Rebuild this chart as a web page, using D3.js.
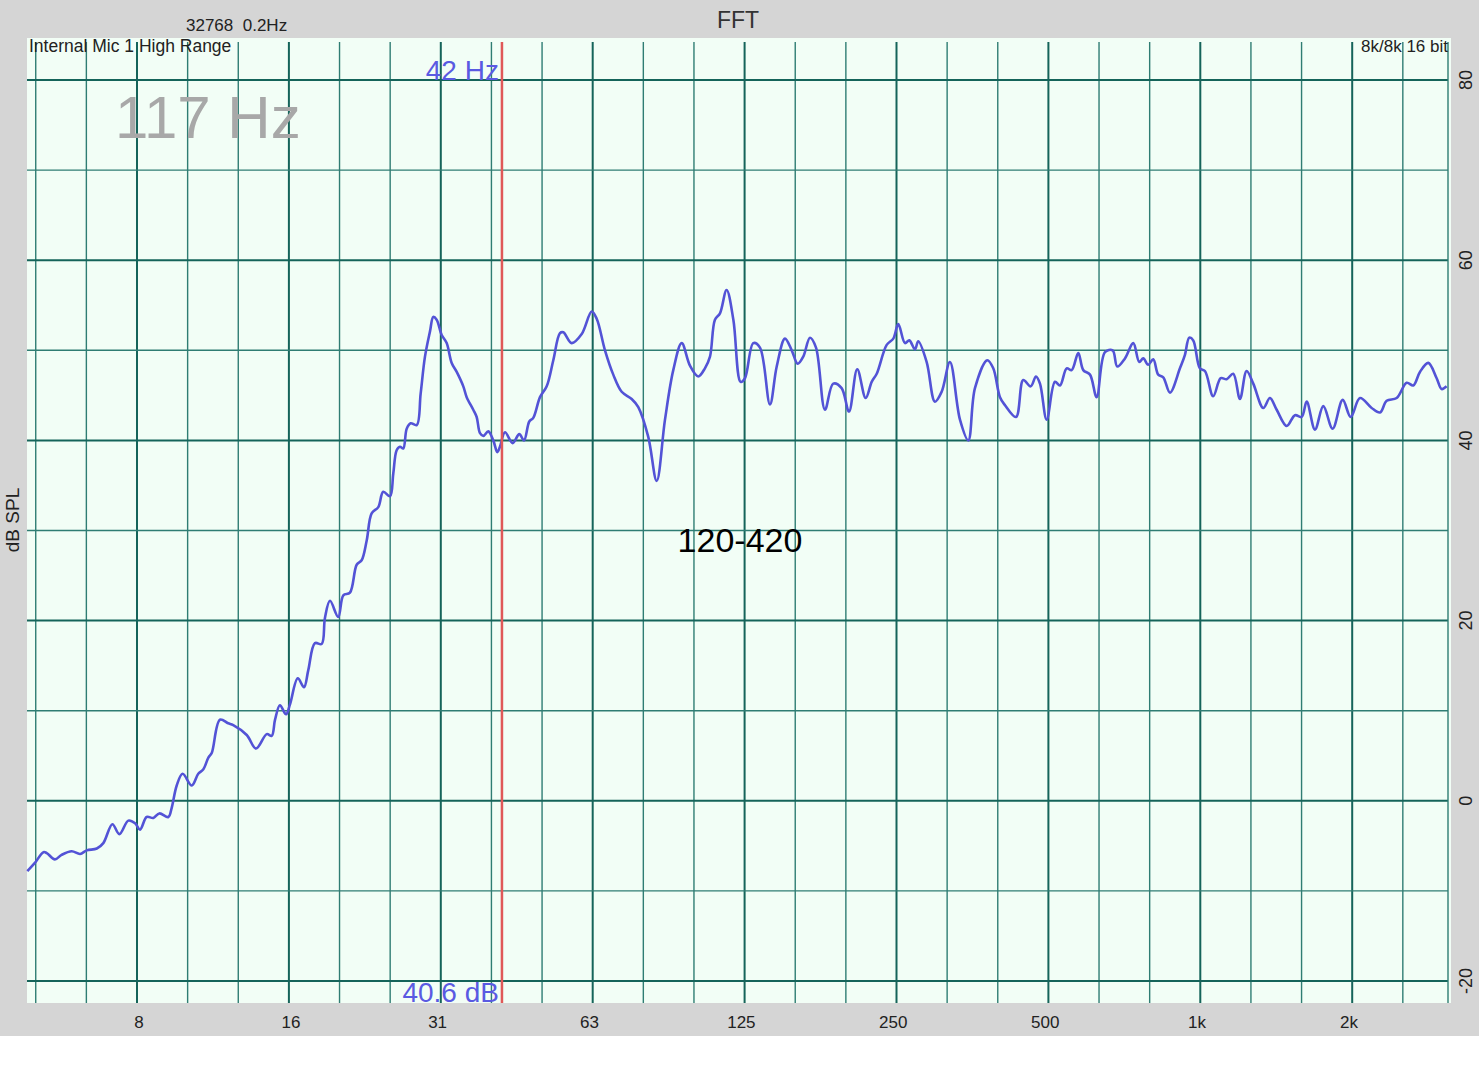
<!DOCTYPE html>
<html>
<head>
<meta charset="utf-8">
<script src="https://d3js.org/d3.v7.min.js"></script>
<style>
    body { margin: 0; background: #fff; }
    svg { display: block; font-family: "Liberation Sans", Arial, Helvetica, sans-serif; }
</style>
</head>
<body>
<script>
const canvWidth = 1479, canvHeight = 1080;
const plot = {left: 27, top: 38, right: 1451, bottom: 1003};

// frequency (Hz) and level (dB SPL)
const freqs = [4.85, 5.02, 5.22, 5.30, 5.50, 5.67, 5.94, 6.17, 6.36, 6.66, 6.86, 7.15, 7.38, 7.69, 7.93,
    8.11, 8.36, 8.62, 8.86, 9.23, 9.37, 9.59, 9.85, 10.27, 10.58, 10.83, 11.08, 11.25, 11.68, 12.13,
    12.41, 13.20, 13.77, 14.46, 14.79, 15.02, 15.36, 15.79, 16.08, 16.66, 17.14, 17.48, 18.02, 18.58,
    18.86, 19.30, 20.04, 20.51, 21.14, 21.80, 22.30, 22.82, 23.34, 24.06, 24.61, 25.38, 25.76, 26.16,
    26.56, 26.96, 27.39, 27.89, 28.67, 29.19, 29.77, 30.46, 30.92, 31.40, 32.13, 32.87, 33.63, 34.41,
    35.46, 36.01, 37.11, 37.69, 38.27, 38.85, 39.74, 40.66, 41.41, 41.92, 42.89, 44.42, 45.78, 46.78,
    47.92, 48.80, 50.32, 51.88, 53.47, 55.12, 55.96, 58.15, 60.87, 63.71, 65.18, 67.69, 70.30, 73.05,
    76.46, 78.80, 82.47, 85.70, 89.01, 92.44, 96.06, 99.76, 103.6, 106.8, 109.3, 111.8, 114.4, 117.9,
    121.6, 125.7, 128.2, 133.2, 137.3, 143.7, 148.2, 153.9, 158.7, 163.1, 167.3, 172.5, 177.3, 184.7,
    191.8, 199.3, 206.1, 214.0, 222.4, 228.6, 233.9, 244.8, 252.3, 258.1, 266.1, 271.4, 278.5, 282.7,
    293.8, 305.1, 314.6, 326.7, 342.0, 355.2, 366.2, 387.4, 398.1, 410.5, 420.0, 441.6, 456.5, 472.2,
    483.8, 492.7, 508.0, 527.6, 539.8, 556.5, 569.3, 586.8, 600.3, 619.0, 638.1, 662.8, 686.4, 701.0,
    726.1, 754.1, 775.1, 789.4, 807.5, 826.1, 845.2, 864.7, 891.6, 933.2, 954.7, 973.6, 991.6, 1022,
    1046, 1086, 1124, 1155, 1190, 1227, 1265, 1304, 1365, 1407, 1451, 1519, 1577, 1626, 1664, 1728,
    1795, 1873, 1961, 2034, 2122, 2238, 2325, 2397, 2509, 2626, 2706, 2790, 2898, 3011, 3080, 3151];

const levels = [-7.8, -6.9, -5.7, -5.8, -6.5, -6.0, -5.6, -5.9, -5.5, -5.3, -4.7, -2.6, -3.7, -2.2, -2.5,
    -3.2, -1.8, -1.9, -1.4, -1.8, -0.8, 1.7, 3.0, 1.7, 3.0, 3.5, 4.8, 5.3, 9.0, 8.6,
    8.4, 7.3, 5.8, 7.4, 7.2, 9.0, 10.6, 9.6, 10.7, 13.6, 12.6, 14.5, 17.5, 17.4,
    20.3, 22.2, 20.4, 22.8, 23.1, 26.2, 26.7, 28.9, 31.9, 32.6, 34.3, 33.8, 36.3, 38.9,
    39.3, 39.1, 41.3, 41.9, 41.7, 45.2, 49.3, 52.1, 53.7, 53.4, 51.7, 50.8, 48.6, 47.6,
    46.0, 44.8, 43.4, 42.6, 40.8, 40.5, 41.0, 40.0, 38.7, 39.3, 40.9, 39.7, 40.7, 40.0,
    42.1, 42.5, 44.8, 46.0, 48.9, 51.9, 52.0, 50.8, 51.8, 54.3, 53.5, 50.0, 47.3, 45.4,
    44.6, 43.7, 40.4, 35.5, 42.3, 47.8, 50.8, 48.3, 47.1, 48.0, 49.3, 53.4, 54.1, 56.7,
    53.4, 46.5, 46.9, 50.8, 50.3, 44.0, 48.2, 51.3, 50.0, 48.5, 49.3, 51.4, 50.3, 43.4,
    46.3, 45.8, 43.2, 47.9, 44.7, 46.5, 47.4, 50.6, 51.3, 52.9, 50.8, 51.1, 50.1, 51.0,
    48.7, 44.3, 45.4, 48.7, 42.3, 40.0, 45.8, 48.9, 48.0, 44.8, 43.9, 42.6, 46.7, 46.0,
    47.1, 46.3, 42.3, 46.5, 46.1, 48.0, 47.8, 49.7, 47.8, 47.3, 44.8, 49.8, 50.0, 48.2,
    49.1, 50.8, 48.7, 49.1, 48.4, 49.0, 47.3, 47.0, 45.3, 48.0, 49.5, 51.4, 51.1, 48.0,
    47.7, 44.9, 46.9, 46.8, 47.4, 44.6, 47.7, 46.3, 43.6, 44.7, 43.4, 41.6, 42.8, 42.6, 44.3, 41.2,
    43.8, 41.3, 44.5, 42.6, 44.7, 43.6, 43.1, 44.4, 44.7, 46.4, 46.1, 47.6, 48.6, 46.9, 45.7, 46.0];

const xTickValues = [8, 16, 31.25, 62.5, 125, 250, 500, 1000, 2000];
const xTickLabels = ["8", "16", "31", "63", "125", "250", "500", "1k", "2k"];
const yTickValues = [-20, -10, 0, 10, 20, 30, 40, 50, 60, 70, 80];
const yTickLabels = ["-20", "", "0", "", "20", "", "40", "", "60", "", "80"];

const cursorFreq = 42.3;
const cursorLabels = ["42 Hz", "40.6 dB"];

const svg = d3.select("body").append("svg")
    .attr("width", canvWidth)
    .attr("height", canvHeight);

// scales: one octave is ~152 px, 8 Hz sits at x=137
const xScale = d3.scaleLog().domain([8, 2000]).range([137, 1347]);
const yScale = d3.scaleLinear().domain([-20, 80]).range([981, 80]);

svg.append("rect")
    .attr("width", canvWidth).attr("height", 1036)
    .attr("fill", "#d5d5d5");

svg.append("rect")
    .attr("x", plot.left).attr("y", plot.top)
    .attr("width", plot.right - plot.left).attr("height", plot.bottom - plot.top)
    .attr("fill", "#f2fef6");

const grid = svg.append("g").attr("id", "grid");

// third-octave vertical lines
const fLo = xScale.invert(plot.left), fHi = xScale.invert(plot.right - 3);
const kLo = Math.ceil(3 * Math.log2(fLo / 8)), kHi = Math.floor(3 * Math.log2(fHi / 8));
const vLines = d3.range(kLo, kHi + 1).map(k => ({f: 8 * Math.pow(2, k / 3), major: k % 3 === 0}));

grid.selectAll("line.v")
    .data(vLines)
    .enter().append("line")
    .attr("class", "v")
    .attr("x1", d => xScale(d.f)).attr("x2", d => xScale(d.f))
    .attr("y1", plot.top + 4).attr("y2", plot.bottom)
    .attr("stroke", d => d.major ? "#15645a" : "#2f7d73")
    .attr("stroke-width", d => d.major ? 2 : 1.4);

grid.selectAll("line.h")
    .data(yTickValues)
    .enter().append("line")
    .attr("class", "h")
    .attr("x1", plot.left).attr("x2", plot.right - 3)
    .attr("y1", d => yScale(d)).attr("y2", d => yScale(d))
    .attr("stroke", (d, i) => yTickLabels[i] ? "#15645a" : "#2f7d73")
    .attr("stroke-width", (d, i) => yTickLabels[i] ? 2 : 1.4);

// right edge line
grid.append("line")
    .attr("x1", plot.right - 3).attr("x2", plot.right - 3)
    .attr("y1", plot.top + 4).attr("y2", plot.bottom)
    .attr("stroke", "#2f7d73").attr("stroke-width", 1.4);

// x tick labels
svg.append("g").attr("id", "xLabels")
    .selectAll("text")
    .data(xTickValues)
    .enter().append("text")
    .attr("x", d => xScale(d) + 2)
    .attr("y", 1028)
    .attr("font-size", "17px")
    .attr("fill", "#222")
    .style("text-anchor", "middle")
    .text((d, i) => xTickLabels[i]);

// y tick labels, rotated
svg.append("g").attr("id", "yLabels")
    .selectAll("text")
    .data(yTickValues.filter((d, i) => yTickLabels[i]))
    .enter().append("text")
    .attr("transform", d => `translate(1472,${yScale(d)}) rotate(-90)`)
    .attr("font-size", "18px")
    .attr("fill", "#222")
    .style("text-anchor", "middle")
    .text(d => yTickLabels[yTickValues.indexOf(d)]);

svg.append("text")
    .attr("transform", "translate(19,520) rotate(-90)")
    .attr("font-size", "19px")
    .attr("fill", "#222")
    .style("text-anchor", "middle")
    .text("dB SPL");

// header texts
svg.append("text")
    .attr("x", 738).attr("y", 28)
    .attr("font-size", "23px")
    .attr("fill", "#333")
    .style("text-anchor", "middle")
    .text("FFT");

svg.append("text")
    .attr("x", 186).attr("y", 31)
    .attr("font-size", "17px")
    .attr("fill", "#222")
    .style("white-space", "pre")
    .text("32768  0.2Hz");

svg.append("text")
    .attr("x", 29).attr("y", 52)
    .attr("font-size", "17.5px")
    .attr("fill", "#222")
    .text("Internal Mic 1 High Range");

svg.append("text")
    .attr("x", 1448).attr("y", 52)
    .attr("font-size", "17px")
    .attr("fill", "#222")
    .style("text-anchor", "end")
    .text("8k/8k 16 bit");

svg.append("text")
    .attr("x", 115).attr("y", 138)
    .attr("font-size", "60px")
    .attr("fill", "#a8a8a8")
    .text("117 Hz");

// the trace
const line = d3.line()
    .x(d => xScale(d[0]))
    .y(d => yScale(d[1]))
    .curve(d3.curveCatmullRom.alpha(0.5));

svg.append("path")
    .datum(d3.zip(freqs, levels))
    .attr("fill", "none")
    .attr("stroke", "#5353d6")
    .attr("stroke-width", 2.6)
    .attr("stroke-linejoin", "round")
    .attr("d", line);

// cursor
svg.append("line")
    .attr("x1", xScale(cursorFreq)).attr("x2", xScale(cursorFreq))
    .attr("y1", plot.top + 4).attr("y2", plot.bottom)
    .attr("stroke", "#e05858")
    .attr("stroke-width", 2.5);

svg.append("text")
    .attr("x", xScale(cursorFreq) - 3).attr("y", 80)
    .attr("font-size", "28px")
    .attr("fill", "#5a5ae2")
    .style("text-anchor", "end")
    .text(cursorLabels[0]);

svg.append("text")
    .attr("x", xScale(cursorFreq) - 3).attr("y", 1002)
    .attr("font-size", "28px")
    .attr("fill", "#5a5ae2")
    .style("text-anchor", "end")
    .text(cursorLabels[1]);

svg.append("text")
    .attr("x", 740).attr("y", 552)
    .attr("font-size", "34px")
    .attr("fill", "#000")
    .style("text-anchor", "middle")
    .text("120-420");
</script>
</body>
</html>
